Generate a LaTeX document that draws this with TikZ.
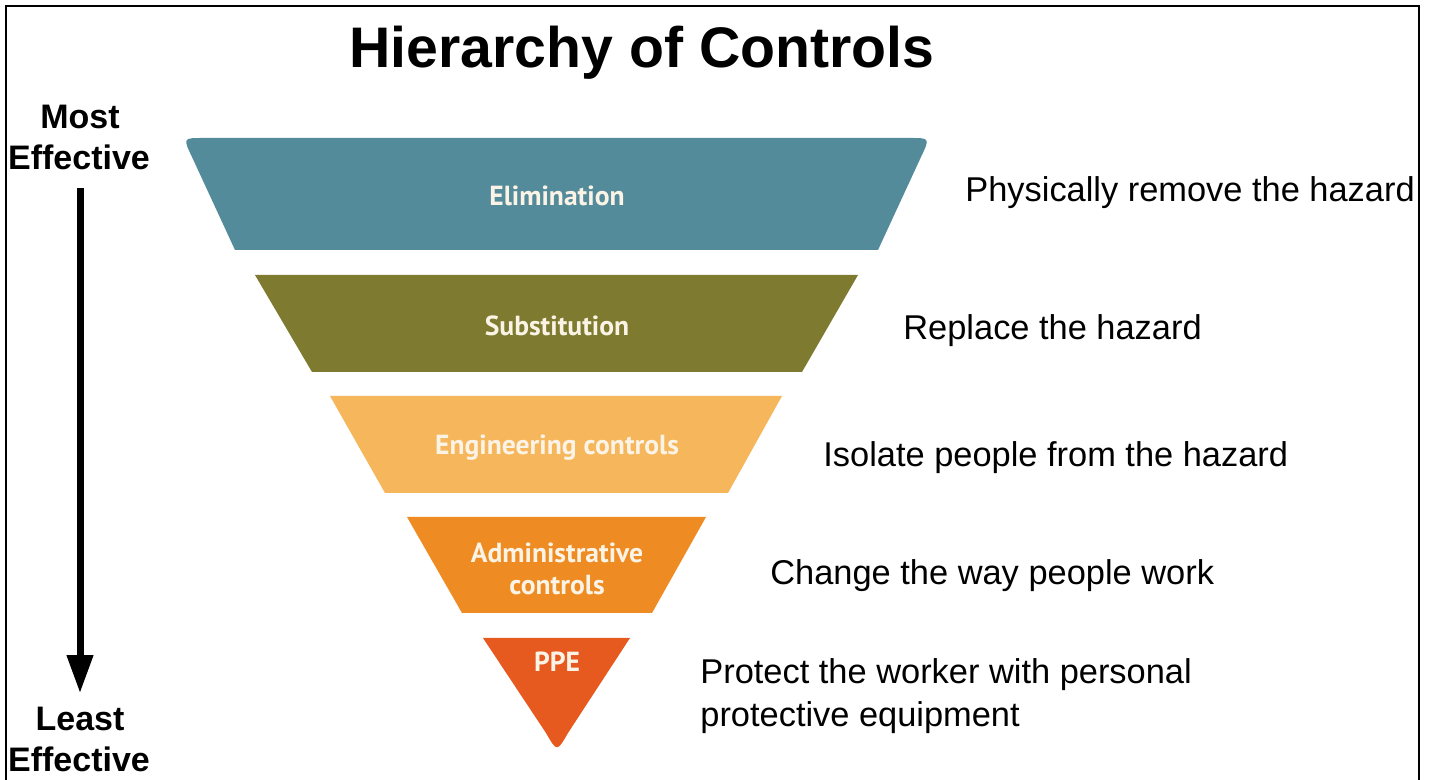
\documentclass[tikz,border=0pt]{standalone}
\usepackage{fontspec}
\setmainfont{Liberation Sans}
\newfontfamily\lblfont{PT Sans}
\usetikzlibrary{arrows.meta}
\definecolor{elimc}{HTML}{548B9B}
\definecolor{substc}{HTML}{7E7A2F}
\definecolor{engc}{HTML}{F6B65C}
\definecolor{admc}{HTML}{EE8B22}
\definecolor{ppec}{HTML}{E6591F}
\definecolor{lblc}{HTML}{FBF4E6}
\begin{document}
\begin{tikzpicture}[x=0.5pt,y=-0.5pt,
  lvl/.style={inner sep=0pt, text=lblc, font=\lblfont\bfseries\fontsize{13.8}{16}\selectfont, align=center},
  desc/.style={anchor=base west, inner sep=0pt, font=\fontsize{17.2}{21.5}\selectfont},
  side/.style={anchor=base, inner sep=0pt, font=\bfseries\fontsize{17}{20}\selectfont},
  bigarrow/.style={line width=3.5pt, -{Triangle[width=12.5pt,length=19pt]}}
]
\useasboundingbox (0,0) rectangle (1432,780);
\fill[white] (0,0) rectangle (1432,780);
\draw[line width=1pt] (6,780) -- (6,6) -- (1419,6) -- (1419,780);

% title
\node[anchor=base, inner sep=0pt, font=\bfseries\fontsize{28.6}{34}\selectfont] (title) at (642,68) {Hierarchy of Controls};

% levels
\fill[elimc] (235,250) -- (192,157) .. controls (183,138) .. (203,138) -- (910,138) .. controls (930,138) .. (921,157) -- (878,250) -- cycle;
\fill[substc] (255,275) -- (858,275) -- (802,372) -- (312,372) -- cycle;
\fill[engc] (330,396) -- (782,396) -- (728,493) -- (385,493) -- cycle;
\fill[admc] (407,517) -- (706,517) -- (652,613) -- (462,613) -- cycle;
\fill[ppec] (483,638) -- (630,638) -- (568,733) .. controls (557,752) .. (546,733) -- cycle;

\node[lvl] (elim) at (557,196) {Elimination};
\node[lvl] (subst) at (557,326) {Substitution};
\node[lvl] (eng) at (557,448) {Engineering controls};
\node[lvl] (adm) at (557,569) {Administrative\\controls};
\node[lvl] (ppe) at (557,662) {PPE};

% descriptions
\node[desc] (d1) at (965,202) {Physically remove the hazard};
\node[desc] (d2) at (903,340) {Replace the hazard};
\node[desc] (d3) at (823,467) {Isolate people from the hazard};
\node[desc] (d4) at (770,585) {Change the way people work};
\node[desc] (d5) at (700,684) {Protect the worker with personal};
\node[desc] (d6) at (700,727) {protective equipment};

% side scale
\node[side] (most) at (80,129) {Most};
\node[side] (mosteff) at (79,170) {Effective};
\node[side] (least) at (80,731) {Least};
\node[side] (leasteff) at (79,772) {Effective};
\draw[bigarrow, shorten <=8.5pt, shorten >=7pt] (mosteff.south -| most.south) -- (least.north);
\end{tikzpicture}
\end{document}
